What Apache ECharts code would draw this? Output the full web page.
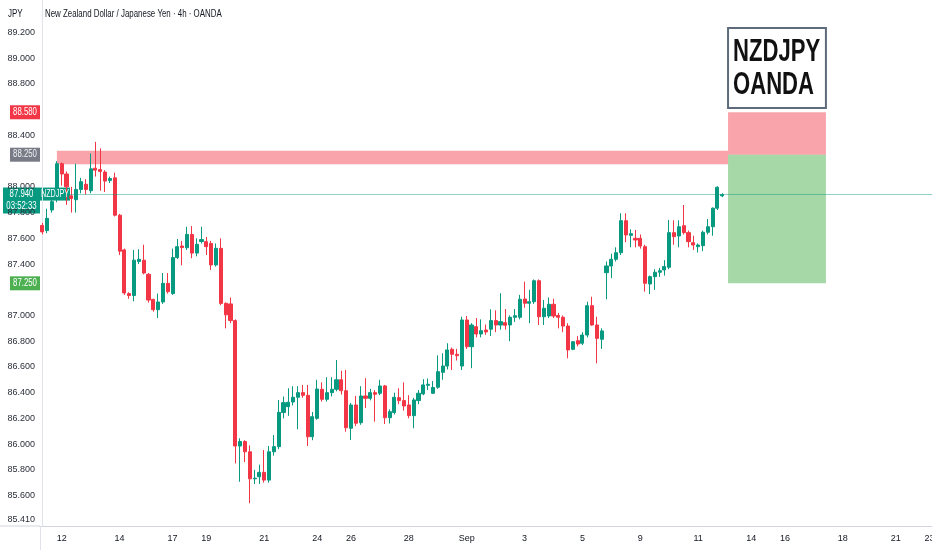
<!DOCTYPE html>
<html>
<head>
<meta charset="utf-8">
<script src="https://cdn.jsdelivr.net/npm/echarts@6/dist/echarts.min.js"></script>
<style>
html,body{margin:0;padding:0;background:#fff;overflow:hidden;}
#chart{width:932px;height:550px;}
</style>
</head>
<body>
<div id="chart"></div>
<script>
// ---- data (4h candles, NZDJPY, OANDA) ----
const opens = [87.70,87.66,87.82,87.91,88.18,88.10,87.93,87.90,87.98,88.02,87.97,88.145,88.135,88.115,88.05,88.07,87.78,87.51,87.17,87.155,
87.42,87.43,87.32,87.125,87.045,87.105,87.25,87.17,87.45,87.54,87.527,87.63,87.485,87.575,87.574,87.56,87.393,87.522,87.095,87.09,
86.96,85.985,86.02,85.94,85.73,85.746,85.78,85.72,85.94,85.98,86.245,86.291,86.327,86.364,86.40,86.379,86.057,86.20,86.426,86.348,
86.40,86.426,86.50,86.415,86.123,86.304,86.166,86.374,86.356,86.40,86.395,86.452,86.205,86.245,86.361,86.338,86.304,86.221,86.338,86.39,
86.457,86.395,86.442,86.558,86.607,86.737,86.698,86.607,86.965,86.757,86.913,86.856,86.887,86.893,86.96,86.926,86.944,86.926,86.986,86.986,
87.128,87.095,87.107,87.27,86.99,86.996,87.087,87.0,86.986,86.918,86.737,86.804,86.784,86.848,87.076,86.926,86.815,87.333,87.385,87.437,
87.488,87.737,87.623,87.60,87.60,87.535,87.245,87.302,87.336,87.354,87.375,87.644,87.618,87.698,87.644,87.566,87.535,87.543,87.647,87.69,
87.834,87.93];
const closes = [87.65,87.755,87.885,88.18,88.10,88.00,87.91,87.98,88.04,87.98,88.14,88.13,88.12,88.045,88.065,87.78,87.50,87.175,87.155,87.43,
87.437,87.33,87.12,87.045,87.105,87.25,87.185,87.45,87.535,87.528,87.63,87.485,87.553,87.59,87.535,87.393,87.522,87.094,87.005,86.96,
85.985,86.02,85.94,85.73,85.735,85.78,85.72,85.94,85.98,86.247,86.322,86.325,86.364,86.40,86.379,86.057,86.213,86.428,86.348,86.40,
86.426,86.50,86.415,86.127,86.304,86.162,86.374,86.356,86.40,86.387,86.452,86.205,86.252,86.364,86.338,86.296,86.221,86.343,86.395,86.46,
86.465,86.44,86.563,86.607,86.732,86.698,86.687,86.965,86.757,86.926,86.856,86.882,86.872,86.96,86.926,86.952,86.924,86.986,86.998,87.126,
87.095,87.107,87.27,86.99,87.056,87.087,86.996,86.986,86.918,86.732,86.796,86.778,86.848,87.076,86.926,86.822,86.88,87.385,87.437,87.488,
87.737,87.626,87.636,87.587,87.54,87.25,87.302,87.336,87.348,87.38,87.644,87.613,87.69,87.644,87.574,87.548,87.548,87.647,87.69,87.834,
87.997,87.94];
const lows = [87.63,87.64,87.80,87.88,88.01,87.86,87.80,87.80,87.95,87.94,87.95,88.08,87.97,87.96,88.03,87.77,87.47,87.16,87.13,87.11,
87.40,87.32,87.10,87.03,86.98,87.09,87.17,87.16,87.44,87.39,87.51,87.445,87.46,87.56,87.47,87.354,87.38,87.08,86.90,86.94,
85.85,85.707,85.86,85.54,85.69,85.69,85.70,85.70,85.91,85.96,86.20,86.22,86.30,86.115,86.36,85.985,86.03,86.19,86.33,86.33,
86.37,86.41,86.385,86.096,86.032,86.14,86.15,86.28,86.34,86.174,86.38,86.156,86.16,86.23,86.31,86.26,86.20,86.123,86.31,86.38,
86.42,86.39,86.43,86.50,86.58,86.576,86.65,86.576,86.74,86.59,86.83,86.83,86.85,86.84,86.87,86.89,86.89,86.80,86.95,86.97,
87.06,86.94,87.09,86.926,86.926,86.98,86.98,86.90,86.87,86.667,86.73,86.76,86.77,86.83,86.92,86.628,86.74,87.126,87.29,87.42,
87.47,87.57,87.53,87.53,87.52,87.185,87.167,87.20,87.30,87.31,87.36,87.55,87.53,87.63,87.53,87.51,87.49,87.50,87.63,87.62,
87.82,87.92];
const highs = [87.72,87.83,87.93,88.20,88.19,88.12,88.00,88.18,88.07,88.06,88.26,88.35,88.30,88.13,88.08,88.11,87.79,87.52,87.18,87.51,
87.515,87.55,87.33,87.13,87.17,87.33,87.33,87.52,87.595,87.58,87.69,87.695,87.60,87.69,87.61,87.58,87.56,87.60,87.10,87.14,
86.97,86.045,86.03,85.99,85.80,85.84,85.954,85.985,86.07,86.343,86.37,86.434,86.45,86.45,86.46,86.46,86.25,86.50,86.48,86.52,
86.52,86.654,86.57,86.576,86.32,86.375,86.45,86.512,86.43,86.42,86.50,86.46,86.27,86.40,86.434,86.48,86.38,86.36,86.42,86.505,
86.51,86.49,86.69,86.706,86.784,86.75,86.74,86.99,86.996,86.94,86.98,86.97,86.93,87.048,87.04,87.173,87.05,87.00,87.05,87.16,
87.263,87.20,87.28,87.28,87.12,87.14,87.13,87.02,87.00,86.94,86.80,86.84,86.87,87.107,87.146,86.99,86.90,87.42,87.48,87.53,
87.795,87.795,87.67,87.665,87.63,87.55,87.31,87.36,87.37,87.43,87.743,87.74,87.74,87.859,87.66,87.62,87.56,87.66,87.75,87.84,
88.005,87.95];

// x axis: candle index of each date label
const tickIndex  = [4,16,27,34,46,57,64,76,88,100,112,124,136,147,154,166,177,184];
const tickLabels = ['12','14','17','19','21','24','26','28','Sep','3','5','9','11','14','16','18','21','23'];
// y axis tick labels (those hidden behind the price badges are left out)
const yTicks = [85.41,85.6,85.8,86.0,86.2,86.4,86.6,86.8,87.0,87.4,87.6,87.8,88.0,88.4,88.8,89.0,89.2];

// trade levels / annotations
const lastPrice = 87.94;
const lastTimer = '03:52:33';
const stopLoss = 88.58;
const entry = 88.25;
const takeProfit = 87.25;
const supplyZone = [88.175, 88.28];
const supplyZoneX = [3, 142.2];
const positionX = [142.2, 162.5];
const noteBox = [88.613, 89.236];
const noteLines = ['NZDJPY', 'OANDA'];
const titleText = 'New Zealand Dollar / Japanese Yen · 4h · OANDA';
const currencyText = 'JPY';
const symbolTag = 'NZDJPY';

const FONT = "'Liberation Sans',Arial,sans-serif";
const UP = '#089981', DOWN = '#f23645';

const candles = opens.map((o, i) => [i, o, closes[i], lows[i], highs[i]]);

const chart = echarts.init(document.getElementById('chart'));
chart.setOption({
  animation: false,
  backgroundColor: '#ffffff',
  grid: {left: 40, right: 0, top: 0, bottom: 24, outerBoundsMode: 'none', containLabel: false},
  xAxis: {
    type: 'value', min: -0.5, max: 184.5,
    splitLine: {show: false},
    axisTick: {show: false},
    axisLine: {show: true, lineStyle: {color: '#d1d4dc', width: 1}},
    axisLabel: {
      customValues: tickIndex,
      formatter: v => { const k = tickIndex.indexOf(Math.round(v)); return k >= 0 ? tickLabels[k] : ''; },
      fontFamily: FONT, fontSize: 9, color: '#131722', margin: 8
    }
  },
  yAxis: {
    type: 'value', min: 85.363, max: 89.453, position: 'left',
    splitLine: {show: false},
    axisTick: {show: false},
    axisLine: {show: true, lineStyle: {color: '#e0e3eb', width: 1}},
    axisLabel: {
      customValues: yTicks,
      formatter: v => v.toFixed(3),
      fontFamily: FONT, fontSize: 9, color: '#2a2e39', margin: 5
    }
  },
  series: [{
    type: 'candlestick',
    data: candles,
    encode: {x: 0, y: [1, 2, 3, 4]},
    barWidth: 3.6,
    itemStyle: {color: UP, color0: DOWN, borderColor: UP, borderColor0: DOWN, borderWidth: 1},
    markArea: {
      silent: true,
      data: [
        [{xAxis: supplyZoneX[0], yAxis: supplyZone[0], itemStyle: {color: 'rgba(242,54,69,0.45)'}},
         {xAxis: supplyZoneX[1], yAxis: supplyZone[1]}],
        [{xAxis: positionX[0], yAxis: entry, itemStyle: {color: 'rgba(242,54,69,0.45)'}},
         {xAxis: positionX[1], yAxis: stopLoss}],
        [{xAxis: positionX[0], yAxis: takeProfit, itemStyle: {color: 'rgba(76,175,80,0.5)'}},
         {xAxis: positionX[1], yAxis: entry}],
        [{xAxis: positionX[0], yAxis: noteBox[0],
          itemStyle: {color: '#ffffff', borderColor: '#5d6b7a', borderWidth: 2}},
         {xAxis: positionX[1], yAxis: noteBox[1]}]
      ]
    },
    markLine: {
      silent: true, symbol: ['none', 'none'],
      label: {show: false},
      lineStyle: {color: UP, width: 1, type: 'solid', opacity: 0.45},
      data: [{yAxis: lastPrice}]
    }
  }]
});

// condensed text helper (real text, squeezed horizontally like the reference)
function txt(x, y, text, size, sx, opts) {
  opts = opts || {};
  return {
    type: 'text', x: x, y: y, scaleX: sx, scaleY: 1, z: 101,
    style: {text: text, x: 0, y: 0, fill: opts.fill || '#131722',
      font: (opts.weight || 'normal') + ' ' + size + 'px ' + FONT,
      textAlign: opts.align || 'center', textVerticalAlign: 'middle'}
  };
}
const py = p => chart.convertToPixel({yAxisIndex: 0}, p);
const px = v => chart.convertToPixel({xAxisIndex: 0}, v);
function badge(price, text, bg, x0, x1, fg) {
  const y = py(price);
  return {
    type: 'group', z: 100,
    children: [
      {type: 'rect', shape: {x: x0, y: y - 7, width: x1 - x0, height: 14}, style: {fill: bg}},
      txt((x0 + x1) / 2, y, text, 10, 0.78, {fill: fg || '#fff'})
    ]
  };
}
const yl = py(lastPrice);
const yBase = py(85.363);
const bx0 = px(positionX[0]);
const byMid = (py(noteBox[0]) + py(noteBox[1])) / 2;
chart.setOption({
  graphic: [
    {type: 'line', z: 50, shape: {x1: 0, y1: yBase, x2: 40, y2: yBase}, style: {stroke: '#d1d4dc', lineWidth: 1}},
    {type: 'line', z: 50, shape: {x1: 40.5, y1: yBase, x2: 40.5, y2: 550}, style: {stroke: '#e0e3eb', lineWidth: 1}},
    txt(8, 14, currencyText, 10, 0.8, {align: 'left'}),
    txt(45, 14, titleText, 10, 0.79, {align: 'left'}),
    badge(stopLoss, stopLoss.toFixed(3), '#f23645', 10, 40),
    badge(entry, entry.toFixed(3), '#787b86', 10, 40, '#eef0f3'),
    badge(takeProfit, takeProfit.toFixed(3), '#4caf50', 10, 40),
    {type: 'group', z: 100, children: [
      {type: 'rect', shape: {x: 3, y: yl - 7, width: 37, height: 26}, style: {fill: UP}},
      txt(21.5, yl, lastPrice.toFixed(3), 10, 0.78, {fill: '#fff'}),
      txt(21.5, yl + 12, lastTimer, 10, 0.78, {fill: '#fff'}),
      {type: 'rect', shape: {x: 40, y: yl - 7, width: 30, height: 13}, style: {fill: UP}},
      txt(55, yl - 0.5, symbolTag, 10, 0.72, {fill: '#fff'})
    ]},
    txt(bx0 + 5, byMid - 16, noteLines[0], 32, 0.69, {align: 'left', weight: 'bold', fill: '#111'}),
    txt(bx0 + 5, byMid + 17, noteLines[1], 32, 0.69, {align: 'left', weight: 'bold', fill: '#111'})
  ]
});
</script>
</body>
</html>
